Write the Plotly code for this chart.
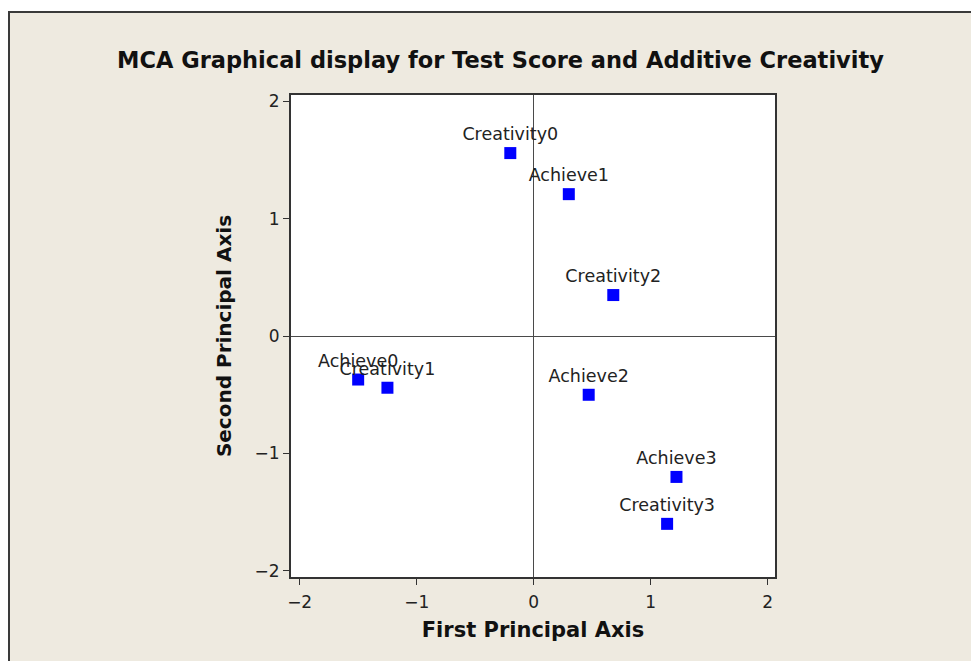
import plotly.graph_objects as go

labels = ["Creativity0", "Achieve1", "Creativity2", "Achieve0", "Creativity1",
          "Achieve2", "Achieve3", "Creativity3"]
dim1 = [-0.20, 0.30, 0.68, -1.50, -1.25, 0.47, 1.22, 1.14]
dim2 = [1.56, 1.21, 0.35, -0.37, -0.44, -0.50, -1.20, -1.60]
tick_vals = [-2, -1, 0, 1, 2]

# page body has an 8px default margin; figure is sized/offset to compensate
W, H = 971, 653
L, T = 283, 87
pw, ph = 484, 482
R, B = W - L - pw, H - T - ph

def px(x):
    return (x - L) / pw

def py(y):
    return (H - B - y) / ph

BG = "#EEEAE0"
fig = go.Figure()
fig.add_trace(go.Scatter(
    x=dim1, y=dim2, mode="markers+text", text=labels,
    textposition="top center",
    textfont=dict(family="DejaVu Sans", size=17.5, color="#222222"),
    marker=dict(symbol="square", size=12, color="#0000FF", line=dict(width=0)),
    showlegend=False, cliponaxis=False,
))

shapes = [
    dict(type="rect", xref="paper", yref="paper", x0=px(-50), x1=px(W + 50),
         y0=py(3), y1=py(-50), fillcolor="white", line=dict(width=0), layer="below"),
    dict(type="line", xref="paper", yref="paper", x0=px(0), x1=px(W + 50),
         y0=py(4), y1=py(4), line=dict(color="#3a3a3a", width=2), layer="below"),
    dict(type="line", xref="paper", yref="paper", x0=px(1), x1=px(1),
         y0=py(4), y1=py(H + 50), line=dict(color="#3a3a3a", width=2), layer="below"),
]

axis_common = dict(
    showgrid=False, zeroline=True, zerolinecolor="#4a4a4a", zerolinewidth=1,
    showline=True, linecolor="#333333", linewidth=2, mirror=True,
    ticks="outside", ticklen=6, tickwidth=1, tickcolor="#333333",
    tickvals=tick_vals, tickfont=dict(family="DejaVu Sans", size=17, color="#222222"),
    automargin=False,
)

fig.update_layout(
    width=W, height=H,
    margin=dict(l=L, r=R, t=T, b=B),
    paper_bgcolor=BG, plot_bgcolor="white",
    shapes=shapes,
    title=dict(text="MCA Graphical display for Test Score and Additive Creativity",
               x=492.5 / W, xanchor="center", y=1 - 52 / H, yanchor="middle",
               yref="container",
               font=dict(family="DejaVu Sans", size=22.5, color="#111111", weight="bold")),
    xaxis=dict(range=[-2.074, 2.062], ticklabelstandoff=3,
               title=dict(text="First Principal Axis",
                          font=dict(family="DejaVu Sans", size=21, color="#111111", weight="bold"),
                          standoff=11), **axis_common),
    yaxis=dict(range=[-2.053, 2.055],
               title=dict(text="Second Principal Axis",
                          font=dict(family="DejaVu Sans", size=20, color="#111111", weight="bold"),
                          standoff=18), **axis_common),
)

fig.write_html("out.html")
